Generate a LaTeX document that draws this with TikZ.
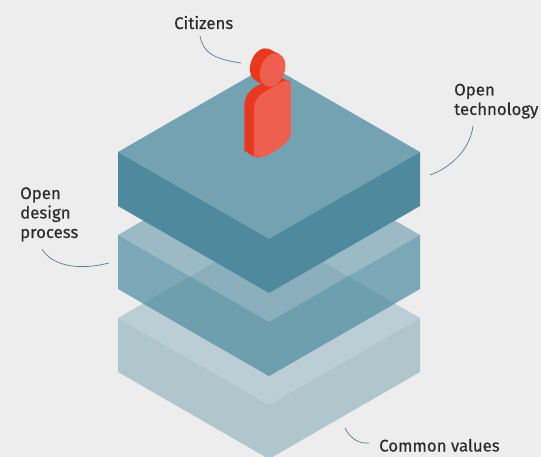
\documentclass[tikz,border=0pt]{standalone}
\usepackage{fontspec}
\setmainfont[FakeBold=0.25]{Fira Sans}
\definecolor{bgc}{HTML}{EDEDED}
\definecolor{toptop}{HTML}{73A3B2}
\definecolor{topside}{HTML}{4F899E}
\definecolor{midtop}{HTML}{9ABAC5}
\definecolor{midside}{HTML}{7CA7B6}
\definecolor{lowtop}{HTML}{BBCDD5}
\definecolor{lowside}{HTML}{AFC6CD}
\definecolor{ovtop}{HTML}{8AAFBC}
\definecolor{ovside}{HTML}{6E9FAF}
\definecolor{redside}{HTML}{E8391F}
\definecolor{redfront}{HTML}{EF5F4F}
\definecolor{leadc}{HTML}{4F7F8C}
\definecolor{textc}{HTML}{2B2B2D}
\tikzset{
  labeltext/.style={inner sep=0pt,anchor=base west,text=textc,font=\fontsize{16.8}{19.5}\selectfont,align=left},
  leader/.style={draw=leadc,line width=0.7pt},
}
\newcommand{\topface}[2]{(118,#1) -- (269,#1-87) -- (420,#1) -- (269,#1+87) -- cycle}
\newcommand{\sideface}[1]{(118,#1) -- (269,#1+87) -- (420,#1) -- (420,#1+54) -- (269,#1+141) -- (118,#1+54) -- cycle}
\begin{document}
\begin{tikzpicture}[x=1pt,y=-1pt]
\useasboundingbox (0,0) rectangle (541,457);
\fill[bgc] (0,0) rectangle (541,457);
% lowest slab
\fill[lowtop] \topface{318}{};
\fill[lowside] \sideface{318};
% middle slab
\fill[midtop] \topface{235}{};
\fill[midside] \sideface{235};
\begin{scope}
  \clip \topface{318}{};
  \fill[ovtop] \topface{235}{};
  \fill[ovside] \sideface{235};
\end{scope}
% top slab
\fill[toptop] \topface{152}{};
\fill[topside] \sideface{152};
% person
\begin{scope}[shift={(190,0)},x=0.3333pt,y=-0.3333pt]
  \fill[redside] (163,452) -- (163,315) .. controls (165,285) and (180,270) .. (205,255)
     -- (268,230) -- (300,246) -- (303,300) -- (303,405) -- (205,473) -- (192,470) -- cycle;
  \fill[redfront] (192,330) .. controls (193,305) and (200,290) .. (218,279)
     -- (280,244) .. controls (292,240) and (303,246) .. (303,262)
     -- (303,405) .. controls (295,425) and (280,438) .. (250,456)
     .. controls (225,471) and (205,476) .. (192,470) -- cycle;
  \fill[redside,rotate around={70:(218,195)}] (218,195) ellipse [x radius=52,y radius=36];
  \fill[redside] (238.3,147.3) -- (268.3,162.3) -- (227.7,257.7) -- (197.7,242.7) -- cycle;
  \fill[redfront,rotate around={70:(248,210)}] (248,210) ellipse [x radius=52,y radius=36];
\end{scope}
% labels
\node[labeltext] (citizens) at (174,29) {Citizens};
\node[labeltext] (tech) at (454,115) {Open\\technology};
\node[labeltext] (design) at (20,238) {Open\\design\\process};
\node[labeltext] (common) at (379,451.5) {Common values};
% leaders
\coordinate (ca) at (200,36); \coordinate (cb) at (241,63);
\coordinate (ta) at (473,126); \coordinate (tb) at (430,175);
\coordinate (da) at (42,249); \coordinate (db) at (109,263);
\coordinate (va) at (345,428); \coordinate (vb) at (369,443);
\draw[leader] (ca) .. controls (203,52) and (213,59) .. (cb);
\draw[leader] (ta) .. controls (470,150) and (450,168) .. (tb);
\draw[leader] (da) .. controls (50,263) and (73,272) .. (db);
\draw[leader] (va) .. controls (350,438) and (358,444) .. (vb);
\end{tikzpicture}
\end{document}
